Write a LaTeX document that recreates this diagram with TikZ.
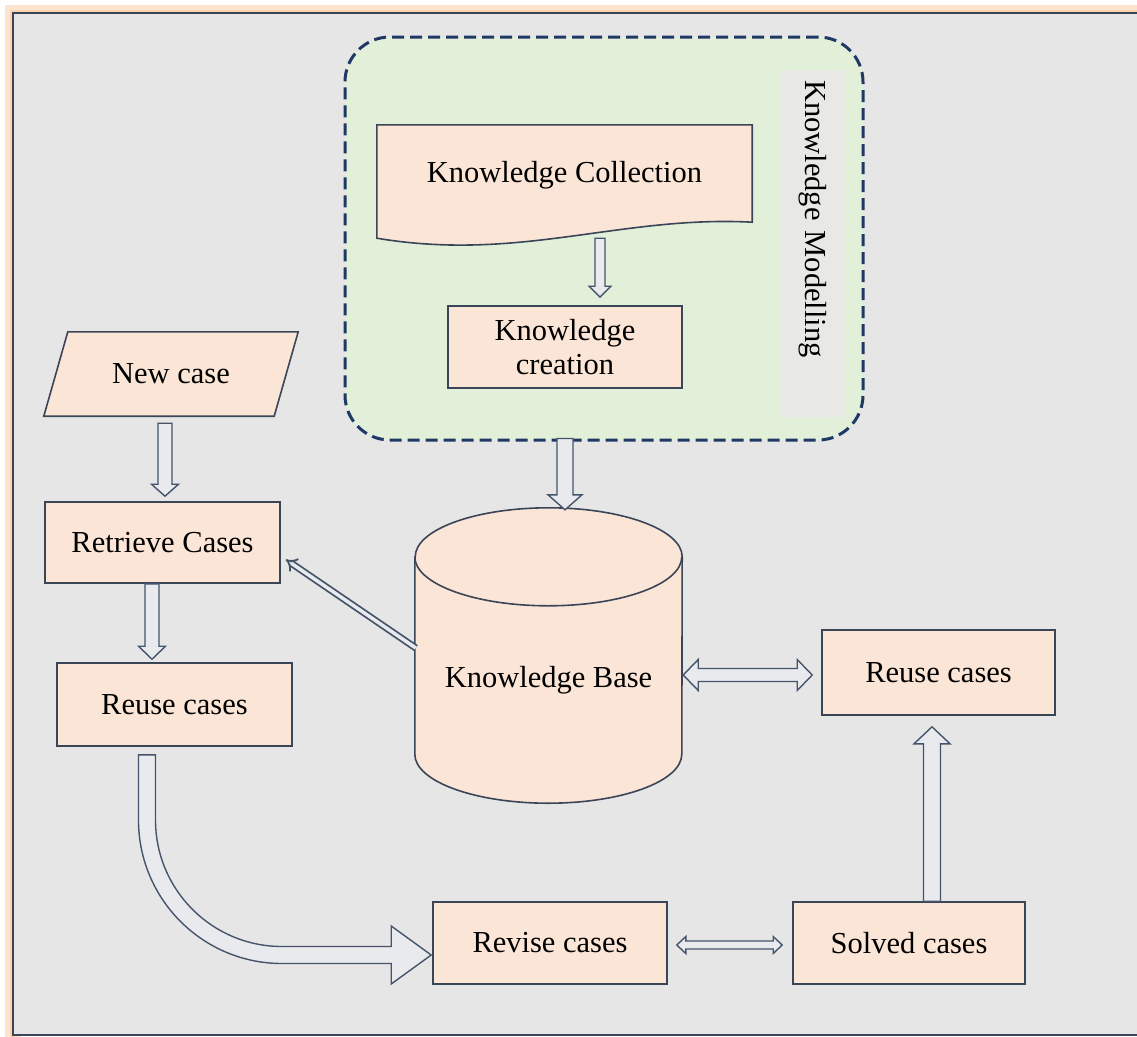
\documentclass[tikz,border=0pt]{standalone}
\usepackage{fontspec}
\setmainfont{Liberation Serif}
\usetikzlibrary{positioning, calc, shapes.geometric, arrows.meta}

\definecolor{bg_grey}{HTML}{E7E6E6}
\definecolor{glow}{HTML}{FBD3B0}
\definecolor{box_fill}{HTML}{FBE5D6}
\definecolor{box_line}{HTML}{3B4558}
\definecolor{group_fill}{HTML}{E2F0D9}
\definecolor{group_line}{HTML}{203864}
\definecolor{band_grey}{HTML}{E8E9E5}
\definecolor{arrow_line}{HTML}{44546A}
\definecolor{arrow_fill}{HTML}{E8EAEE}

\tikzstyle{box} = [
    rectangle,
    draw=box_line,
    fill=box_fill,
    line width=1.6pt,
    align=center,
    font=\fontsize{30.5pt}{34pt}\selectfont,
    minimum width=234pt,
    minimum height=82pt
]
\tikzstyle{bare} = [
    rectangle,
    align=center,
    font=\fontsize{30.5pt}{34pt}\selectfont,
    inner sep=0pt
]
\tikzstyle{outline} = [
    draw=box_line,
    fill=box_fill,
    line width=1.6pt
]
\tikzstyle{group} = [
    rectangle,
    rounded corners=45pt,
    draw=group_line,
    fill=group_fill,
    line width=3pt,
    dash pattern=on 12pt off 6pt,
    minimum width=518pt,
    minimum height=403pt
]
\tikzstyle{hollow} = [
    draw=arrow_line,
    fill=arrow_fill,
    line width=1.4pt,
    line join=miter
]
\tikzstyle{dbl} = [
    draw=arrow_line,
    double=arrow_fill,
    double distance=3.5pt,
    line width=1.8pt,
    -{Implies}
]

% block arrow: from, to, shaft half width, head half width, head length
\newcommand{\blockarrow}[5]{
    \draw[hollow] let \p1=(#1), \p2=(#2), \n1={atan2(\y2-\y1,\x2-\x1)} in
        ($(\p1)+(\n1+90:#3)$)
        -- ($(\p2)+(\n1+180:#5)+(\n1+90:#3)$)
        -- ($(\p2)+(\n1+180:#5)+(\n1+90:#4)$)
        -- (\p2)
        -- ($(\p2)+(\n1+180:#5)+(\n1-90:#4)$)
        -- ($(\p2)+(\n1+180:#5)+(\n1-90:#3)$)
        -- ($(\p1)+(\n1-90:#3)$) -- cycle;
}
% same, with a head on both ends
\newcommand{\dblockarrow}[5]{
    \draw[hollow] let \p1=(#1), \p2=(#2), \n1={atan2(\y2-\y1,\x2-\x1)} in
        (\p1)
        -- ($(\p1)+(\n1:#5)+(\n1+90:#4)$)
        -- ($(\p1)+(\n1:#5)+(\n1+90:#3)$)
        -- ($(\p2)+(\n1+180:#5)+(\n1+90:#3)$)
        -- ($(\p2)+(\n1+180:#5)+(\n1+90:#4)$)
        -- (\p2)
        -- ($(\p2)+(\n1+180:#5)+(\n1-90:#4)$)
        -- ($(\p2)+(\n1+180:#5)+(\n1-90:#3)$)
        -- ($(\p1)+(\n1:#5)+(\n1-90:#3)$)
        -- ($(\p1)+(\n1:#5)+(\n1-90:#4)$) -- cycle;
}

\begin{document}
\begin{tikzpicture}[x=1pt, y=1pt]
\useasboundingbox (0,0) rectangle (1137,-1036);

% background and frame
\fill[white] (0,0) rectangle (1137,-1036);
\draw[glow, line width=16pt, opacity=0.6] (13,-13) rectangle (1170,-1060);
\draw[glow, line width=7pt] (13,-13) rectangle (1170,-1060);
\draw[box_line, fill=bg_grey, line width=1.5pt] (13,-13) rectangle (1170,-1035);

% knowledge modelling group
\node [group] (kmod) at (604,-238.5) {};
\node [bare, fill=band_grey, rotate=-90, text width=327pt, inner sep=10pt,
    minimum height=63pt, align=left] (kmodlabel) at (813,-243.5) {Knowledge Modelling};

\node [bare, minimum width=375pt, minimum height=100pt] (kcoll) at (564.5,-175) {};
\draw[outline]
    (kcoll.north west) -- (kcoll.north east) -- ($(kcoll.south east)+(0,3)$)
    .. controls ($(kcoll.south east)+(-132,10)$) and ($(kcoll.south west)+(143,-37)$)
    .. ($(kcoll.south west)+(0,-13)$) -- cycle;
\node [bare] at (kcoll) {Knowledge Collection};
\node [box] (kcre) at (565,-347) {Knowledge\\creation};

% case nodes
\node [bare, minimum width=230pt, minimum height=84pt] (newcase) at (171,-374) {};
\draw[outline]
    ($(newcase.north west)+(12,0)$) -- ($(newcase.north east)+(12,0)$)
    -- ($(newcase.south east)+(-12,0)$) -- ($(newcase.south west)+(-12,0)$) -- cycle;
\node [bare] at (newcase) {New case};
\node [box, minimum width=235pt, minimum height=81pt] (retr) at (162.5,-542.5) {Retrieve Cases};
\node [box, minimum width=235pt, minimum height=83pt] (reuseL) at (174.5,-704.5) {Reuse cases};

% knowledge base drum (top of node = centre of the lid)
\node [bare, minimum width=267pt, minimum height=246pt] (kbase) at (548.5,-680) {};
\draw[outline]
    (kbase.north west) -- ($(kbase.south west)+(0,49)$)
    arc[start angle=180, end angle=360, x radius=133.5pt, y radius=49pt]
    -- (kbase.north east)
    arc[start angle=0, end angle=180, x radius=133.5pt, y radius=49pt] -- cycle;
\draw[outline, fill=none] (kbase.north west)
    arc[start angle=180, end angle=360, x radius=133.5pt, y radius=49pt];
\node [bare] at (kbase) {Knowledge Base};

\node [box, minimum width=233pt, minimum height=85pt] (reuseR) at (938.5,-672.5) {Reuse cases};
\node [box, minimum width=232pt] (solved) at (909,-943) {Solved cases};
\node [box] (revise) at (550,-943) {Revise cases};

% arrows
\blockarrow{$(kcoll.south)+(35.5,-13)$}{$(kcre.north)+(35,8)$}{5pt}{11pt}{11pt}
\blockarrow{$(kmod.south)+(-39,3)$}{$(kbase.north)+(16.5,47)$}{8pt}{17pt}{15pt}
\blockarrow{$(newcase.south)+(-6,-7)$}{$(retr.north)+(2.5,5)$}{7pt}{13.5pt}{12pt}
\blockarrow{$(retr.south)+(-10.5,0)$}{$(reuseL.north)+(-22.5,3)$}{7pt}{13.5pt}{13pt}
\blockarrow{$(solved.north)+(23,0)$}{$(reuseR.south)+(-6.5,-11)$}{8.5pt}{18pt}{17pt}
\dblockarrow{$(kbase.east)+(1,5)$}{$(reuseR.west)+(-9,-2.5)$}{6.5pt}{15.5pt}{15pt}
\dblockarrow{$(revise.east)+(9,-2)$}{$(solved.west)+(-10,-2)$}{4pt}{8.5pt}{9pt}
\draw[dbl] ($(kbase.west)+(1,32)$) -- ($(retr.east)+(5,-17)$);

% curved arrow from reuse cases down to revise cases
\coordinate (ustart) at ($(reuseL.south)+(-27.5,-8)$);
\coordinate (utip) at ($(revise.west)+(-1,-12)$);
\draw[hollow] let \p1=(ustart), \p2=(utip) in
    (\x1-8.5pt,\y1) -- (\x1-8.5pt,\y2+135pt)
    arc[start angle=180, end angle=270, radius=143.5pt]
    -- (\x2-40pt,\y2-8.5pt) -- (\x2-40pt,\y2-29pt) -- (\p2)
    -- (\x2-40pt,\y2+29pt) -- (\x2-40pt,\y2+8.5pt) -- (\x1+135pt,\y2+8.5pt)
    arc[start angle=270, end angle=180, radius=126.5pt]
    -- (\x1+8.5pt,\y1) -- cycle;
\end{tikzpicture}
\end{document}
